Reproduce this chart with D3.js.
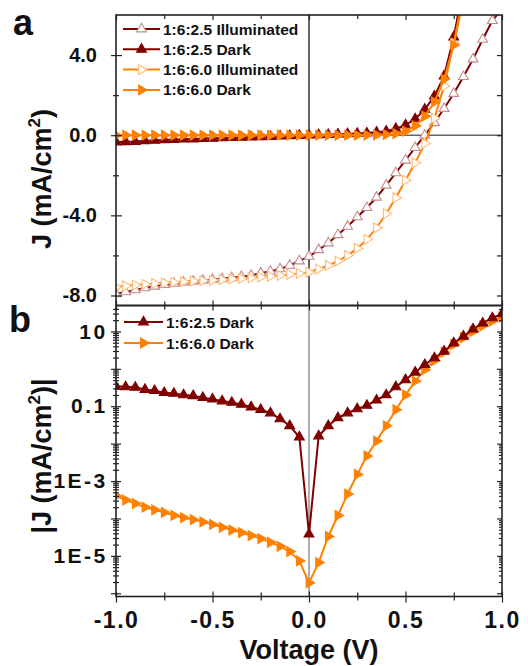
<!DOCTYPE html>
<html>
<head>
<meta charset="utf-8">
<script src="https://cdn.jsdelivr.net/npm/d3@7"></script>
<style>
  body { margin: 0; background: #fff; }
  svg { display: block; }
  text { font-family: "Liberation Sans", Arial, sans-serif; font-weight: bold; fill: #111; }
</style>
</head>
<body>
<svg id="chart" width="528" height="666"></svg>
<script>
// data
const voltage = [-1.00, -0.95, -0.90, -0.85, -0.80, -0.75, -0.70, -0.65, -0.60, -0.55,
    -0.50, -0.45, -0.40, -0.35, -0.30, -0.25, -0.20, -0.15, -0.10, -0.05, 0.00,
    0.05, 0.10, 0.15, 0.20, 0.25, 0.30, 0.35, 0.40, 0.45, 0.50,
    0.55, 0.60, 0.65, 0.70, 0.75, 0.80, 0.85, 0.90, 0.95, 1.00];

const illum25 = [-7.92, -7.82, -7.72, -7.62, -7.54, -7.46, -7.40, -7.34, -7.29, -7.25,
    -7.21, -7.17, -7.12, -7.06, -7.00, -6.88, -6.80, -6.67, -6.50, -6.28, -6.05,
    -5.72, -5.38, -4.97, -4.55, -4.08, -3.62, -3.10, -2.50, -1.88, -1.25,
    -0.62, 0.0, 0.62, 1.33, 2.08, 2.92, 3.80, 4.78, 5.72, 6.3];

const dark25 = [-0.34, -0.33, -0.32, -0.28, -0.26, -0.23, -0.22, -0.20, -0.19, -0.17,
    -0.155, -0.138, -0.126, -0.112, -0.095, -0.081, -0.066, -0.046, -0.030, -0.015, -3.8e-5,
    0.016, 0.030, 0.049, 0.066, 0.085, 0.105, 0.145, 0.20, 0.33, 0.51,
    0.81, 1.29, 1.95, 2.95, 4.9, 7.4, 11.5, 16.6, 22.9, 29.5];

const illum60 = [-7.58, -7.52, -7.48, -7.44, -7.40, -7.37, -7.34, -7.31, -7.28, -7.26,
    -7.24, -7.21, -7.18, -7.15, -7.12, -7.08, -7.04, -7.00, -6.95, -6.90, -6.84,
    -6.68, -6.50, -6.28, -6.00, -5.65, -5.20, -4.62, -3.92, -3.12, -2.25,
    -1.38, -0.42, 0.85, 2.45, 4.6, 7.0, null, null, null, null];

const dark60 = [-4.0e-4, -3.1e-4, -2.5e-4, -2.0e-4, -1.7e-4, -1.45e-4, -1.2e-4, -1.05e-4, -9.3e-5, -8.1e-5,
    -6.9e-5, -5.8e-5, -4.9e-5, -4.2e-5, -3.5e-5, -2.9e-5, -2.3e-5, -1.8e-5, -1.3e-5, -7.4e-6, 1.9e-6,
    6.6e-6, 3.3e-5, 1.2e-4, 4.5e-4, 1.5e-3, 4.7e-3, 0.0117, 0.030, 0.081, 0.20,
    0.47, 0.95, 1.66, 2.8, 4.5, 6.8, 10, 14.1, 19, 24];

const legendA = ['1:6:2.5 Illuminated', '1:6:2.5 Dark', '1:6:6.0 Illuminated', '1:6:6.0 Dark'];
const legendB = ['1:6:2.5 Dark', '1:6:6.0 Dark'];

const xMajor = [-1, -0.5, 0, 0.5, 1];
const xMinor = [-0.75, -0.25, 0.25, 0.75];
const yMajorA = [-8, -4, 0, 4];
const yMinorA = [-6, -2, 2];
const yMajorB = [1e-6, 1e-5, 1e-4, 1e-3, 1e-2, 0.1, 1, 10];
const yLabelB = {1e-5: '1E-5', 1e-3: '1E-3', 0.1: '0.1', 10: '10'};

const brown = '#800000', orange = '#ff8000';
const brownPale = '#c48a8a', orangePale = '#ffbb77';

const L = 116, R = 502, topA = 15, mid = 305.5, botB = 596.5;

const svg = d3.select('#chart');

const x = d3.scaleLinear().domain([-1, 1]).range([L, R]);
const yA = d3.scaleLinear().domain([-8.5, 6]).range([mid, topA]);
const yB = d3.scaleLog().domain([8.2e-7, 49.3]).range([botB, mid]);

// minor log ticks 2..9 per decade
const yMinorB = [];
yMajorB.forEach(d => { for (let k = 2; k <= 9; k++) if (d * k < 49.3) yMinorB.push(d * k); });

// clip paths
const defs = svg.append('defs');
defs.append('clipPath').attr('id', 'clipA').append('rect')
    .attr('x', L).attr('y', topA).attr('width', R - L).attr('height', mid - topA);
defs.append('clipPath').attr('id', 'clipB').append('rect')
    .attr('x', L).attr('y', mid).attr('width', R - L).attr('height', botB - mid);

function tickAxis(axis, tx, ty, fmt) {
    const g = svg.append('g').attr('transform', `translate(${tx},${ty})`).call(axis.tickFormat(fmt || ''));
    g.select('.domain').remove();
    g.selectAll('line').attr('stroke', '#222').attr('stroke-width', 1.2);
    return g;
}

// ---- panel a ----
svg.append('line').attr('x1', x(0)).attr('x2', x(0)).attr('y1', topA).attr('y2', mid)
    .attr('stroke', '#000').attr('stroke-width', 1.2);
svg.append('line').attr('x1', L).attr('x2', R).attr('y1', yA(0)).attr('y2', yA(0))
    .attr('stroke', '#666').attr('stroke-width', 1.6);

const plotA = svg.append('g').attr('clip-path', 'url(#clipA)');

const seriesA = [
    {vals: illum25, line: brown, fill: '#fff', stroke: brownPale, rot: 0},
    {vals: dark25, line: brown, fill: brown, stroke: brown, rot: 0},
    {vals: illum60, line: orange, fill: '#fff', stroke: orangePale, rot: 90},
    {vals: dark60, line: orange, fill: orange, stroke: orange, rot: 90}
];

const tri = d3.symbol().type(d3.symbolTriangle).size(42);

function drawSeries(g, s, yScale, useAbs) {
    const pts = voltage.map((v, i) => ({v: v, j: s.vals[i]})).filter(d => d.j != null);
    const yv = d => yScale(useAbs ? Math.abs(d.j) : d.j);
    g.append('path').datum(pts)
        .attr('fill', 'none').attr('stroke', s.line).attr('stroke-width', 2)
        .attr('d', d3.line().x(d => x(d.v)).y(yv));
    g.selectAll(null).data(pts).enter().append('path')
        .attr('d', tri)
        .attr('transform', d => `translate(${x(d.v)},${yv(d)}) rotate(${s.rot})`)
        .attr('fill', s.fill).attr('stroke', s.stroke).attr('stroke-width', 1.1);
}

seriesA.forEach(s => drawSeries(plotA, s, yA, false));

svg.append('rect').attr('x', L).attr('y', topA).attr('width', R - L).attr('height', mid - topA)
    .attr('fill', 'none').attr('stroke', '#222').attr('stroke-width', 1.6);

// left axis a
tickAxis(d3.axisLeft(yA).tickValues(yMajorA).tickSize(5).tickPadding(14), L, 0, d => d.toFixed(1))
    .selectAll('text').style('font-size', '20px').style('font-family', '"Liberation Sans", Arial, sans-serif');
tickAxis(d3.axisLeft(yA).tickValues(yMajorA).tickSize(-6), L, 0);
tickAxis(d3.axisLeft(yA).tickValues(yMinorA).tickSize(3), L, 0);
tickAxis(d3.axisLeft(yA).tickValues(yMinorA).tickSize(-3), L, 0);
tickAxis(d3.axisRight(yA).tickValues(yMajorA.concat(yMinorA)).tickSize(-5), R, 0);
tickAxis(d3.axisTop(x).tickValues(xMajor).tickSize(-5), 0, topA);
tickAxis(d3.axisTop(x).tickValues(xMinor).tickSize(-4), 0, topA);
tickAxis(d3.axisBottom(x).tickValues(xMajor).tickSize(-5), 0, mid);
tickAxis(d3.axisBottom(x).tickValues(xMinor).tickSize(-4), 0, mid);

// legend a
legendA.forEach((name, i) => {
    const s = seriesA[i];
    const cy = 29 + i * 20.3;
    svg.append('line').attr('x1', 123).attr('x2', 160).attr('y1', cy).attr('y2', cy)
        .attr('stroke', s.line).attr('stroke-width', 2);
    svg.append('path').attr('d', tri)
        .attr('transform', `translate(141.5,${cy}) rotate(${s.rot})`)
        .attr('fill', s.fill).attr('stroke', s.stroke).attr('stroke-width', 1.1);
    svg.append('text').attr('x', 163).attr('y', cy + 5.5).style('font-size', '15.5px').text(name);
});

// ---- panel b ----
svg.append('line').attr('x1', x(0)).attr('x2', x(0)).attr('y1', mid).attr('y2', botB)
    .attr('stroke', '#333').attr('stroke-width', 0.8);

const plotB = svg.append('g').attr('clip-path', 'url(#clipB)');
drawSeries(plotB, seriesA[3], yB, true);
drawSeries(plotB, seriesA[1], yB, true);

svg.append('rect').attr('x', L).attr('y', mid).attr('width', R - L).attr('height', botB - mid)
    .attr('fill', 'none').attr('stroke', '#222').attr('stroke-width', 1.6);

tickAxis(d3.axisLeft(yB).tickValues(yMajorB).tickSize(5).tickPadding(3.5), L, 0, d => yLabelB[d] || '')
    .selectAll('text').style('font-size', '21px').style('letter-spacing', '2.4px');
tickAxis(d3.axisLeft(yB).tickValues(yMajorB).tickSize(-5), L, 0);
tickAxis(d3.axisLeft(yB).tickValues(yMinorB).tickSize(3), L, 0);
tickAxis(d3.axisLeft(yB).tickValues(yMinorB).tickSize(-3), L, 0);
tickAxis(d3.axisRight(yB).tickValues(yMajorB).tickSize(-5), R, 0);
tickAxis(d3.axisRight(yB).tickValues(yMinorB).tickSize(-3), R, 0);
tickAxis(d3.axisTop(x).tickValues(xMajor).tickSize(-5), 0, mid);
tickAxis(d3.axisTop(x).tickValues(xMinor).tickSize(-4), 0, mid);

// bottom axis
tickAxis(d3.axisBottom(x).tickValues(xMajor).tickSize(6).tickPadding(9), 0, botB, d => d.toFixed(1))
    .selectAll('text').style('font-size', '23px').style('letter-spacing', '1.5px');
tickAxis(d3.axisBottom(x).tickValues(xMajor).tickSize(-5), 0, botB);
tickAxis(d3.axisBottom(x).tickValues(xMinor).tickSize(4), 0, botB);
tickAxis(d3.axisBottom(x).tickValues(xMinor).tickSize(-4), 0, botB);

// legend b
legendB.forEach((name, i) => {
    const s = seriesA[i * 2 + 1];
    const cy = 322 + i * 21;
    svg.append('line').attr('x1', 124).attr('x2', 163).attr('y1', cy).attr('y2', cy)
        .attr('stroke', s.line).attr('stroke-width', 2);
    svg.append('path').attr('d', tri)
        .attr('transform', `translate(143.5,${cy}) rotate(${s.rot})`)
        .attr('fill', s.fill).attr('stroke', s.stroke).attr('stroke-width', 1.1);
    svg.append('text').attr('x', 166).attr('y', cy + 5.5).style('font-size', '15.5px').text(name);
});

// titles
svg.append('text').attr('x', 13).attr('y', 35).style('font-size', '36px').text('a');
svg.append('text').attr('x', 9).attr('y', 332).style('font-size', '36px').text('b');

const yTitleA = svg.append('text').attr('transform', 'translate(51,179) rotate(-90)')
    .attr('text-anchor', 'middle').style('font-size', '27px');
yTitleA.append('tspan').text('J (mA/cm');
yTitleA.append('tspan').attr('dy', -11).style('font-size', '17px').text('2');
yTitleA.append('tspan').attr('dy', 11).text(')');

const yTitleB = svg.append('text').attr('transform', 'translate(51,456) rotate(-90)')
    .attr('text-anchor', 'middle').style('font-size', '27px');
yTitleB.append('tspan').text('|J (mA/cm');
yTitleB.append('tspan').attr('dy', -11).style('font-size', '17px').text('2');
yTitleB.append('tspan').attr('dy', 11).text(')|');

svg.append('text').attr('x', x(0)).attr('y', 659).attr('text-anchor', 'middle')
    .style('font-size', '27px').text('Voltage (V)');
</script>
</body>
</html>
